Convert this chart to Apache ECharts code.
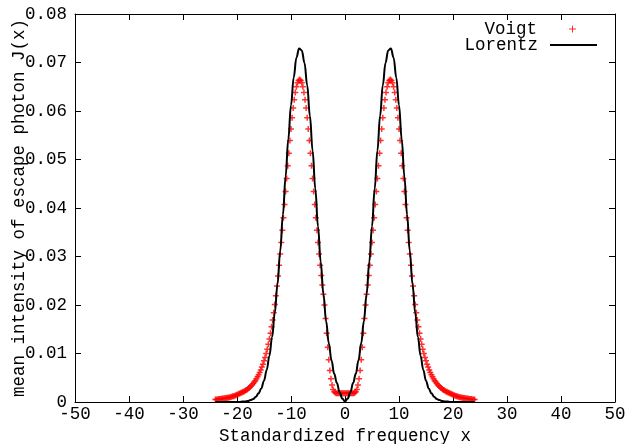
<!DOCTYPE html>
<html>
<head>
<meta charset="utf-8">
<script src="https://cdn.jsdelivr.net/npm/echarts@6/dist/echarts.min.js"></script>
<style>
html,body{margin:0;padding:0;background:#fff;}
#chart{width:625px;height:444px;}
</style>
</head>
<body>
<div id="chart"></div>
<script>
// ---- data ----
const xTicks = [-50, -40, -30, -20, -10, 0, 10, 20, 30, 40, 50];
const yTicks = [0, 0.01, 0.02, 0.03, 0.04, 0.05, 0.06, 0.07, 0.08];
const seriesNames = ['Voigt', 'Lorentz'];

// Voigt: x from -24 to 24, step 0.2
const voigtXStart = -24;
const voigtXStep = 0.2;
const voigtY = [
  0.0005, 0.0005, 0.0005, 0.0006, 0.0006, 0.0006, 0.0007, 0.0007,
  0.0007, 0.0008, 0.0008, 0.0009, 0.0009, 0.0010, 0.0010, 0.0011, 0.0012, 0.0012,
  0.0013, 0.0014, 0.0015, 0.0016, 0.0017, 0.0018, 0.0019, 0.0020, 0.0021, 0.0022,
  0.0024, 0.0025, 0.0027, 0.0029, 0.0031, 0.0033, 0.0035, 0.0038, 0.0041, 0.0044,
  0.0048, 0.0052, 0.0056, 0.0061, 0.0066, 0.0072, 0.0078, 0.0085, 0.0092, 0.0100,
  0.0109, 0.0119, 0.0130, 0.0142, 0.0155, 0.0169, 0.0184, 0.0201, 0.0219, 0.0239,
  0.0260, 0.0282, 0.0305, 0.0329, 0.0354, 0.0380, 0.0407, 0.0434, 0.0461, 0.0487,
  0.0513, 0.0539, 0.0563, 0.0586, 0.0606, 0.0623, 0.0638, 0.0650, 0.0658, 0.0663,
  0.0665, 0.0663, 0.0658, 0.0650, 0.0638, 0.0623, 0.0606, 0.0586, 0.0563, 0.0539,
  0.0513, 0.0487, 0.0461, 0.0434, 0.0407, 0.0380, 0.0354, 0.0329, 0.0305, 0.0282,
  0.0261, 0.0241, 0.0222, 0.0200, 0.0172, 0.0142, 0.0113, 0.0087, 0.0065, 0.0048,
  0.0035, 0.0026, 0.0021, 0.0019,
  0.0018, 0.0018, 0.0018, 0.0018, 0.0018, 0.0018, 0.0018, 0.0018,
  0.0018,
  0.0018, 0.0018, 0.0018, 0.0018, 0.0018, 0.0018, 0.0018, 0.0018,
  0.0019, 0.0021, 0.0026, 0.0035, 0.0048, 0.0065, 0.0087, 0.0113, 0.0142, 0.0172, 0.0200,
  0.0222, 0.0241, 0.0261, 0.0282, 0.0305, 0.0329, 0.0354, 0.0380, 0.0407, 0.0434,
  0.0461, 0.0487, 0.0513, 0.0539, 0.0563, 0.0586, 0.0606, 0.0623, 0.0638, 0.0650,
  0.0658, 0.0663, 0.0665,
  0.0663, 0.0658, 0.0650, 0.0638, 0.0623, 0.0606, 0.0586, 0.0563, 0.0539, 0.0513,
  0.0487, 0.0461, 0.0434, 0.0407, 0.0380, 0.0354, 0.0329, 0.0305, 0.0282, 0.0260,
  0.0239, 0.0219, 0.0201, 0.0184, 0.0169, 0.0155, 0.0142, 0.0130, 0.0119, 0.0109,
  0.0100, 0.0092, 0.0085, 0.0078, 0.0072, 0.0066, 0.0061, 0.0056, 0.0052, 0.0048,
  0.0044, 0.0041, 0.0038, 0.0035, 0.0033, 0.0031, 0.0029, 0.0027, 0.0025, 0.0024,
  0.0022, 0.0021, 0.0020, 0.0019, 0.0018, 0.0017, 0.0016, 0.0015, 0.0014, 0.0013,
  0.0012, 0.0012, 0.0011, 0.0010, 0.0010, 0.0009, 0.0009, 0.0008, 0.0008, 0.0007,
  0.0007, 0.0007, 0.0006, 0.0006, 0.0006, 0.0005, 0.0005, 0.0005
];

// Lorentz: x from -24 to 24, step 0.5
const lorentzXStart = -24;
const lorentzXStep = 0.5;
const lorentzY = [
  0, 0, 0, 0, 0, 0, 0, 0, 0, 0,
  0.0001, 0.0001, 0.0002, 0.0004, 0.0006, 0.0011, 0.0018, 0.0028, 0.0044, 0.0066,
  0.0095, 0.0134, 0.0184, 0.0243, 0.0311, 0.0386, 0.0465, 0.0542, 0.0612, 0.0669,
  0.0710, 0.0729, 0.0725, 0.0699, 0.0653, 0.0590, 0.0518, 0.0440, 0.0362, 0.0289,
  0.0223, 0.0167, 0.0121, 0.0086, 0.0058, 0.0039, 0.0020, 0.0007,
  0.0001,
  0.0007, 0.0020, 0.0039, 0.0058, 0.0086, 0.0121, 0.0167, 0.0223, 0.0289, 0.0362,
  0.0440, 0.0518, 0.0590, 0.0653, 0.0699, 0.0725, 0.0729, 0.0710, 0.0669, 0.0612,
  0.0542, 0.0465, 0.0386, 0.0311, 0.0243, 0.0184, 0.0134, 0.0095, 0.0066, 0.0044,
  0.0028, 0.0018, 0.0011, 0.0006, 0.0004, 0.0002, 0.0001, 0.0001,
  0, 0, 0, 0, 0, 0, 0, 0, 0, 0
];

// ---- build chart ----
const voigtData = voigtY.map((v, i) => [+(voigtXStart + i * voigtXStep).toFixed(2), v]);
const lorentzData = lorentzY.map((v, i) => [+(lorentzXStart + i * lorentzXStep).toFixed(2), v]);

const FONT = 'Liberation Mono';
const FS = 17.5;
const plusPath = 'path://M0,3L6,3M3,0L3,6';

const xMin = xTicks[0], xMax = xTicks[xTicks.length - 1], xInt = xTicks[1] - xTicks[0];
const yMin = yTicks[0], yMax = yTicks[yTicks.length - 1], yInt = 0.01;

function axisCommon() {
  return {
    axisLine: { show: true, onZero: false, lineStyle: { color: '#000', width: 1 } },
    axisTick: { show: true, inside: true, length: 6, lineStyle: { color: '#000', width: 1 } },
    splitLine: { show: false },
    minorTick: { show: false }
  };
}

const chart = echarts.init(document.getElementById('chart'), null, { renderer: 'canvas' });
chart.setOption({
  animation: false,
  backgroundColor: '#fff',
  textStyle: { fontFamily: FONT },
  grid: { left: 75, right: 10, top: 14, bottom: 42, outerBoundsMode: 'none', containLabel: false },
  legend: [
    {
      data: [{ name: seriesNames[0], icon: plusPath }],
      orient: 'vertical', align: 'right',
      right: 48.5, top: 20, padding: 0,
      itemWidth: 7, itemHeight: 7,
      itemStyle: { color: 'red', borderColor: 'red', borderWidth: 1 },
      textStyle: { fontFamily: FONT, fontSize: FS, color: '#000', padding: [0, 27, 0, 0] },
      selectedMode: false
    },
    {
      data: [{ name: seriesNames[1], icon: 'rect' }],
      orient: 'vertical', align: 'right',
      right: 28, top: 36, padding: 0,
      itemWidth: 47, itemHeight: 2,
      itemStyle: { color: '#000', borderWidth: 0 },
      lineStyle: { width: 0 },
      textStyle: { fontFamily: FONT, fontSize: FS, color: '#000', padding: [0, 7, 0, 0] },
      selectedMode: false
    }
  ],
  xAxis: [
    Object.assign({
      type: 'value', position: 'bottom', min: xMin, max: xMax, interval: xInt,
      name: 'Standardized frequency x', nameLocation: 'middle', nameGap: 25,
      nameMoveOverlap: false,
      nameTextStyle: { fontFamily: FONT, fontSize: FS, color: '#000' },
      axisLabel: { show: true, margin: 3, fontFamily: FONT, fontSize: FS, color: '#000' }
    }, axisCommon()),
    Object.assign({
      type: 'value', position: 'top', min: xMin, max: xMax, interval: xInt,
      axisLabel: { show: false }
    }, axisCommon())
  ],
  yAxis: [
    Object.assign({
      type: 'value', position: 'left', min: yMin, max: yMax, interval: yInt,
      name: 'mean intensity of escape photon J(x)', nameLocation: 'middle', nameGap: 47,
      nameMoveOverlap: false,
      nameTextStyle: { fontFamily: FONT, fontSize: FS, color: '#000' },
      axisLabel: {
        show: true, margin: 8, fontFamily: FONT, fontSize: FS, color: '#000',
        formatter: v => (v === 0 ? '0' : v.toFixed(2))
      }
    }, axisCommon()),
    Object.assign({
      type: 'value', position: 'right', min: yMin, max: yMax, interval: yInt,
      axisLabel: { show: false }
    }, axisCommon())
  ],
  series: [
    {
      name: seriesNames[0], type: 'scatter', xAxisIndex: 0, yAxisIndex: 0,
      data: voigtData,
      symbol: plusPath, symbolSize: 6,
      itemStyle: { color: 'red', borderColor: 'red', borderWidth: 1.5 },
      z: 2, silent: true
    },
    {
      name: seriesNames[1], type: 'line', xAxisIndex: 0, yAxisIndex: 0,
      data: lorentzData,
      showSymbol: false, symbol: 'none',
      smooth: 0.4, smoothMonotone: 'x',
      lineStyle: { color: '#000', width: 2 },
      itemStyle: { color: '#000' },
      z: 3, silent: true
    }
  ]
});
</script>
</body>
</html>
